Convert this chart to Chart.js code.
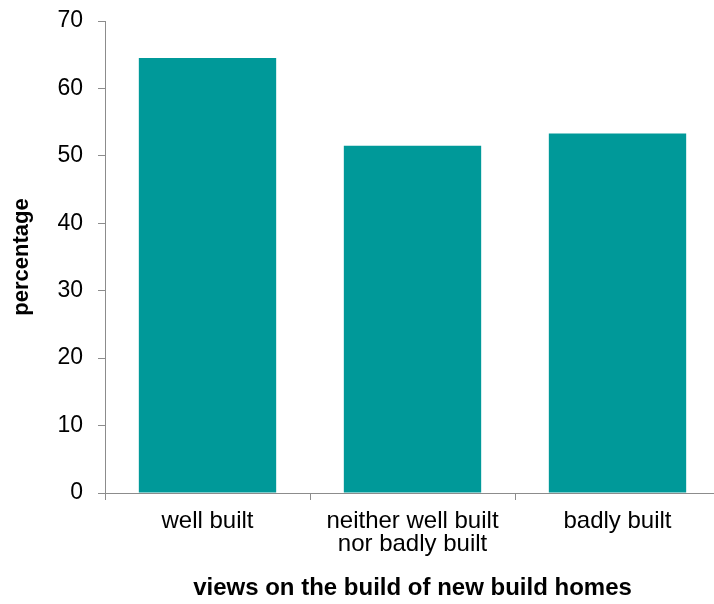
<!DOCTYPE html>
<html>
<head>
<meta charset="utf-8">
<title>Views on the build of new build homes</title>
<script src="https://cdn.jsdelivr.net/npm/chart.js@4"></script>
<style>
    html, body { margin: 0; padding: 0; background: #fff; overflow: hidden; }
    /* the plot is a little wider than the page; its right edge gets cut off */
    #wrap { width: 714px; height: 604px; overflow: hidden; }
</style>
</head>
<body>
<div id="wrap"><canvas id="buildChart" width="720" height="604"></canvas></div>
<script>
// Share of respondents by view on how new homes are built
const categories = [
    "well built",
    ["neither well built", "nor badly built"],
    "badly built"
];
const percentages = [64.5, 51.5, 53.3];
const yTicks = [0, 10, 20, 30, 40, 50, 60, 70];

const axisGrey = "#8c8c8c";
const fontFamily = "'Liberation Sans', Arial, sans-serif";

const ctx = document.getElementById("buildChart").getContext("2d");

window.buildChart = new Chart(ctx, {
    type: "bar",
    data: {
        labels: categories,
        datasets: [
            {
                label: "percentage",
                data: percentages,
                backgroundColor: "#009999",
                borderWidth: 0,
                barPercentage: 0.67,
                categoryPercentage: 1.0,
            },
        ],
    },
    options: {
        responsive: false,
        animation: false,
        layout: {
            padding: { top: 21, right: 0, bottom: 0, left: 0 },
        },
        plugins: {
            legend: { display: false },
            tooltip: { enabled: false },
        },
        scales: {
            x: {
                grid: {
                    display: true,
                    offset: true,
                    drawOnChartArea: false,
                    drawTicks: true,
                    tickLength: 7,
                    color: axisGrey,
                },
                border: { color: axisGrey, width: 1 },
                ticks: {
                    color: "#000",
                    padding: 10,
                    font: { family: fontFamily, size: 24, lineHeight: 0.96 },
                },
                title: {
                    display: true,
                    text: "views on the build of new build homes",
                    color: "#000",
                    padding: { top: 0, bottom: 1 },
                    font: { family: fontFamily, size: 24, weight: "bold" },
                },
                afterFit(scale) {
                    scale.height = 111;
                },
            },
            y: {
                min: 0,
                max: 70,
                afterBuildTicks(scale) {
                    scale.ticks = yTicks.map((v) => ({ value: v }));
                },
                grid: {
                    display: true,
                    drawOnChartArea: false,
                    drawTicks: true,
                    tickLength: 7,
                    color: axisGrey,
                },
                border: { color: axisGrey, width: 1 },
                ticks: {
                    color: "#000",
                    padding: 15,
                    font: { family: fontFamily, size: 23 },
                },
                title: {
                    display: true,
                    text: "percentage",
                    color: "#000",
                    padding: { top: 9, bottom: 0 },
                    font: { family: fontFamily, size: 22, weight: "bold" },
                },
                afterFit(scale) {
                    scale.width = 105;
                    scale.paddingTop = 0;
                    scale.paddingBottom = 0;
                },
            },
        },
    },
});
</script>
</body>
</html>
